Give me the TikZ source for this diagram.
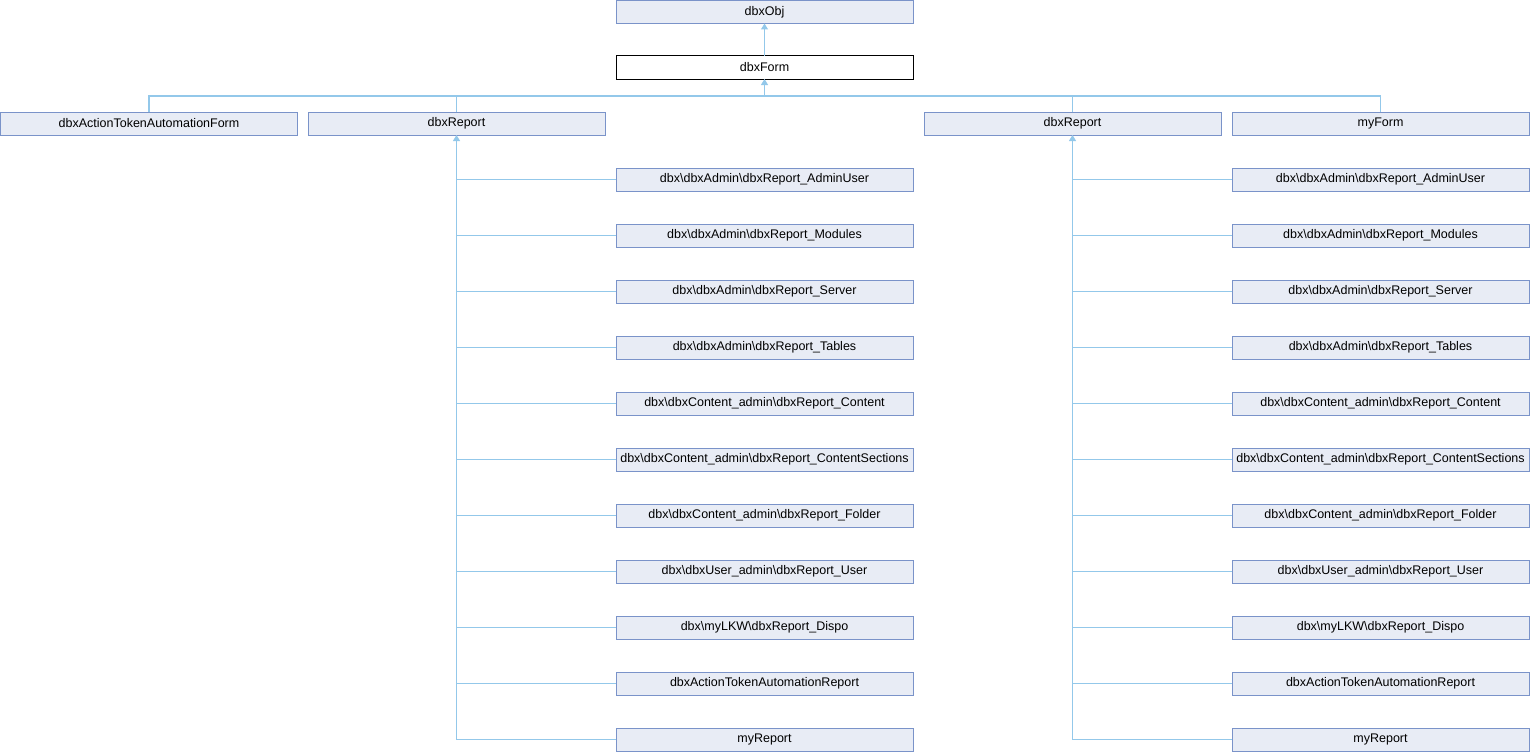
\documentclass[tikz,border=0pt]{standalone}
\usepackage{fontspec}
\setmainfont{Liberation Sans}
\usetikzlibrary{arrows.meta,calc}
\definecolor{boxfill}{HTML}{E8ECF5}
\definecolor{boxline}{HTML}{7A93C9}
\definecolor{edgecol}{HTML}{93C8EA}
\tikzset{
  cls/.style={draw=boxline, fill=boxfill, line width=1pt, minimum width=297pt, minimum height=23pt,
    inner sep=0pt, outer sep=0pt, anchor=north west, font=\fontsize{12.5}{14}\selectfont},
  clscur/.style={cls, draw=black, fill=white},
  edge/.style={draw=edgecol, line width=1.1pt},
  inh/.style={edge, {Triangle[width=7pt,length=6pt]}-}
}
\newcommand{\bs}{\textbackslash}
\begin{document}
\begin{tikzpicture}[x=1pt,y=-1pt]
\useasboundingbox (0,0) rectangle (1530,752);
\node[cls] (obj) at (616,0.5) {dbxObj};
\node[clscur] (form) at (616,56) {dbxForm};
\node[cls] (atf) at (0.5,112) {dbxActionTokenAutomationForm};
\node[cls] (repA) at (308,112) {dbxReport};
\node[cls] (repB) at (924,112) {dbxReport};
\node[cls] (myform) at (1232,112) {myForm};
\draw[inh] (obj.south) -- (form.north);
\coordinate (bus) at ($(form.south)+(0,17)$);
\draw[inh] (form.south) -- (bus);
\draw[edge] (atf.north) |- (bus) -| (myform.north);
\draw[edge] (repA.north) -- (repA.north |- bus);
\draw[edge] (repB.north) -- (repB.north |- bus);
\foreach \col/\x in {A/616, B/1232}{
  \foreach \i/\t in {0/{dbx\bs dbxAdmin\bs dbxReport\_AdminUser},
                     1/{dbx\bs dbxAdmin\bs dbxReport\_Modules},
                     2/{dbx\bs dbxAdmin\bs dbxReport\_Server},
                     3/{dbx\bs dbxAdmin\bs dbxReport\_Tables},
                     4/{dbx\bs dbxContent\_admin\bs dbxReport\_Content},
                     5/{dbx\bs dbxContent\_admin\bs dbxReport\_ContentSections},
                     6/{dbx\bs dbxContent\_admin\bs dbxReport\_Folder},
                     7/{dbx\bs dbxUser\_admin\bs dbxReport\_User},
                     8/{dbx\bs myLKW\bs dbxReport\_Dispo},
                     9/{dbxActionTokenAutomationReport},
                     10/{myReport}}{
    \node[cls] (c\col\i) at (\x,168+56*\i) {\t};
    \draw[edge] (rep\col.south |- c\col\i.west) -- (c\col\i.west);
  }
  \draw[inh] (rep\col.south) -- (rep\col.south |- c\col10.west);
}
\end{tikzpicture}
\end{document}
